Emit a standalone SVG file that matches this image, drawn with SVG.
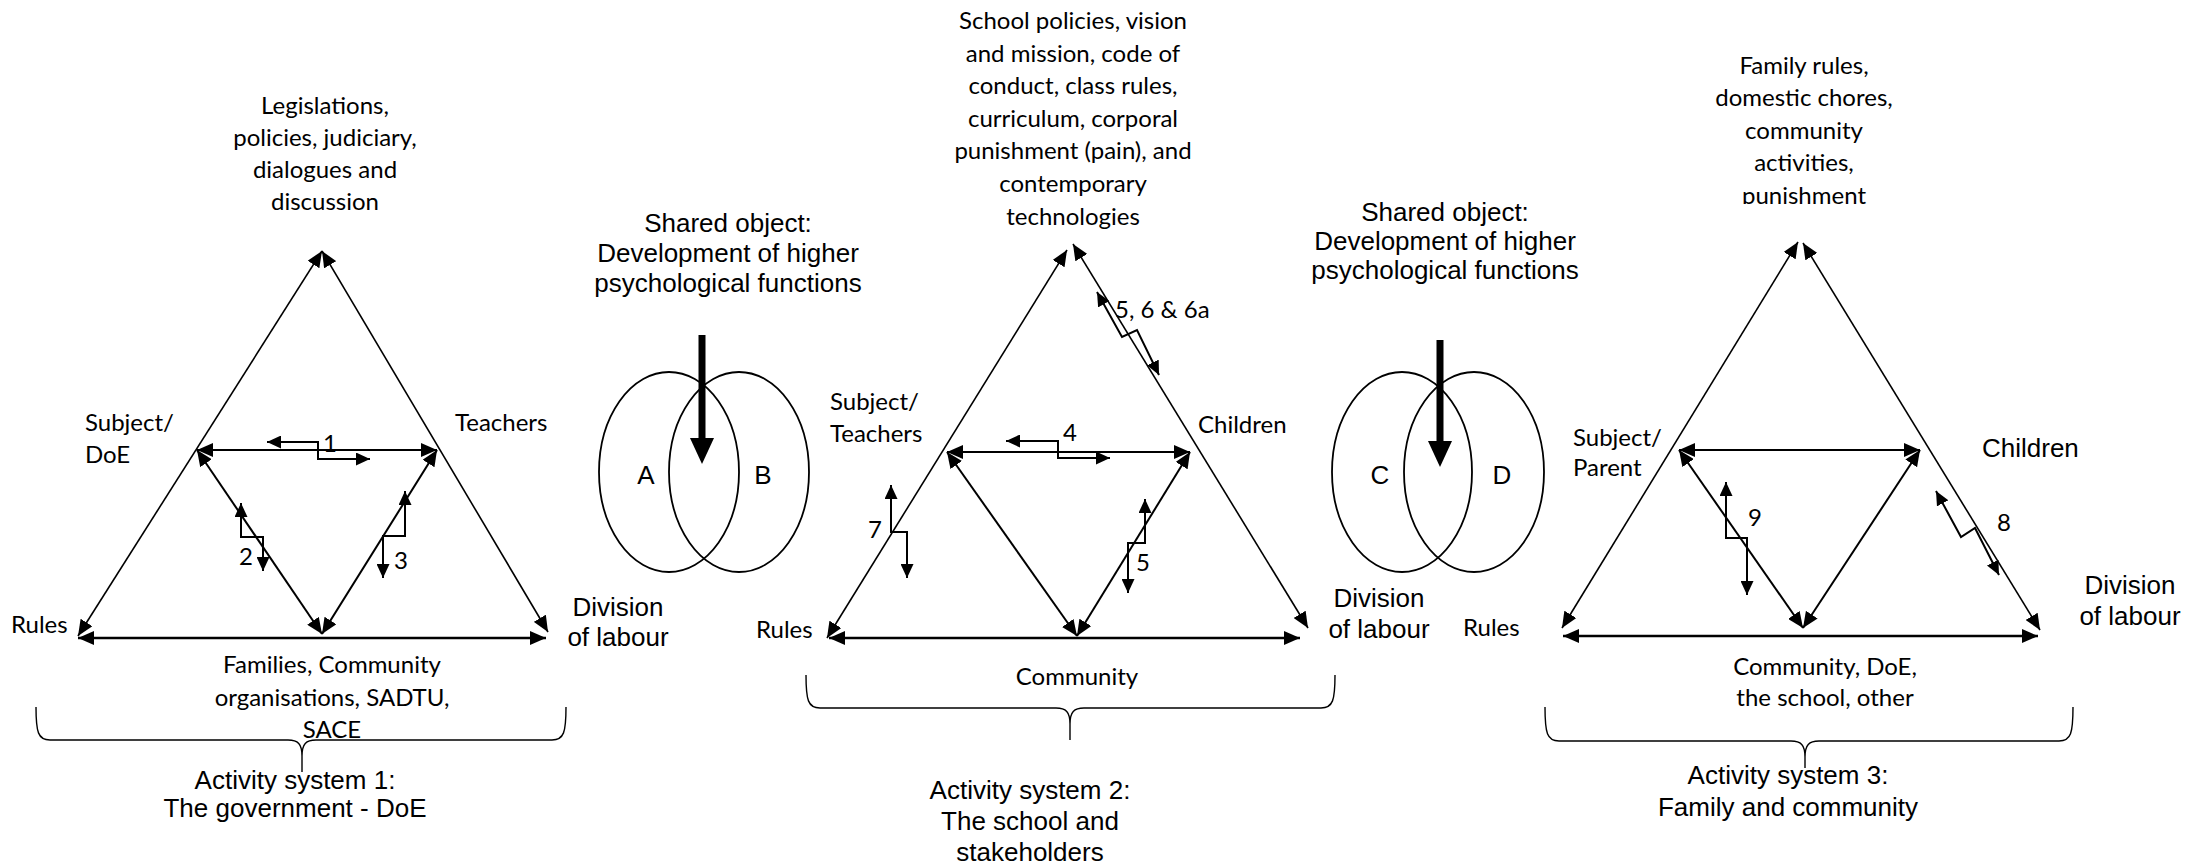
<svg xmlns="http://www.w3.org/2000/svg" width="2188" height="866" viewBox="0 0 2188 866">
<style>
.c{font-family:Lato,"Liberation Sans",sans-serif;font-size:24px;fill:#000}
.a{font-family:"Liberation Sans",Arial,sans-serif;font-size:26px;fill:#000}
.m{text-anchor:middle}
.o{stroke:#000;stroke-width:1.6;fill:none;marker-start:url(#big);marker-end:url(#big)}
.i{stroke:#000;stroke-width:2;fill:none;marker-start:url(#big);marker-end:url(#big)}
.b{stroke:#000;stroke-width:2.6;fill:none;marker-start:url(#big);marker-end:url(#big)}
.z{stroke:#000;stroke-width:2;fill:none;marker-start:url(#sm);marker-end:url(#sm)}
.br{stroke:#000;stroke-width:1.4;fill:none}
.el{stroke:#000;stroke-width:1.8;fill:none}
.th{stroke:#000;stroke-width:7;fill:none}
</style>
<defs>
<marker id="big" viewBox="0 0 16 14" refX="16" refY="7" markerWidth="16" markerHeight="14" markerUnits="userSpaceOnUse" orient="auto-start-reverse"><path d="M0,0 L16,7 L0,14 z" fill="#000"/></marker>
<marker id="sm" viewBox="0 0 14 13" refX="14" refY="6.5" markerWidth="14" markerHeight="13" markerUnits="userSpaceOnUse" orient="auto-start-reverse"><path d="M0,0 L14,6.5 L0,13 z" fill="#000"/></marker>
<clipPath id="clipP"><rect x="1650" y="0" width="320" height="204"/></clipPath>
</defs>
<rect width="2188" height="866" fill="#fff"/>

<g id="connectors">
<!-- Activity system 1 -->
<path class="o" d="M322,251 L78,636"/>
<path class="o" d="M322,251 L548,632"/>
<path class="b" d="M78,638 L546,638"/>
<path class="i" d="M197,450 L437,450"/>
<path class="i" d="M197,450 L322,634"/>
<path class="i" d="M437,450 L322,634"/>
<path class="z" d="M267,442 L318,442 L318,459 L370,459"/>
<path class="z" d="M241,503 L241,537 L263,537 L263,571"/>
<path class="z" d="M405,491 L405,536 L383,536 L383,578"/>
<!-- Activity system 2 -->
<path class="o" d="M1067,250 L827,638"/>
<path class="o" d="M1073,244 L1308,628"/>
<path class="b" d="M829,638 L1300,638"/>
<path class="i" d="M947,452 L1190,452"/>
<path class="i" d="M947,452 L1077,636"/>
<path class="i" d="M1190,452 L1077,636"/>
<path class="z" d="M1006,441 L1058,441 L1058,458 L1110,458"/>
<path class="z" d="M891,485 L891,532 L907,532 L907,578"/>
<path class="z" d="M1145,499 L1145,543 L1128,543 L1128,593"/>
<path class="z" d="M1097,292 L1122,337 L1137,330 L1159,375"/>
<!-- Activity system 3 -->
<path class="o" d="M1798,242 L1562,628"/>
<path class="o" d="M1803,243 L2040,630"/>
<path class="b" d="M1563,636 L2038,636"/>
<path class="i" d="M1679,450 L1920,450"/>
<path class="i" d="M1679,450 L1803,628"/>
<path class="i" d="M1920,450 L1803,628"/>
<path class="z" d="M1726,482 L1726,538 L1747,538 L1747,595"/>
<path class="z" d="M1936,491 L1961,537 L1975,528 L1999,575"/>
<!-- shared object arrows -->
<path class="th" d="M702,335 L702,440"/>
<path d="M690,438 L714,438 L702,464 z" fill="#000"/>
<path class="th" d="M1440,340 L1440,443"/>
<path d="M1428,441 L1452,441 L1440,467 z" fill="#000"/>
<!-- braces -->
<path class="br" d="M36,707 C36,732 38,740 50,740 L288,740 C298,740 302,744 302,756 L302,772 M302,756 C302,744 306,740 316,740 L552,740 C564,740 566,732 566,707"/>
<path class="br" d="M806,675 C806,700 808,708 820,708 L1056,708 C1066,708 1070,712 1070,724 L1070,740 M1070,724 C1070,712 1074,708 1084,708 L1321,708 C1333,708 1335,700 1335,675"/>
<path class="br" d="M1545,707 C1545,733 1547,741 1559,741 L1791,741 C1801,741 1805,745 1805,757 L1805,768 M1805,757 C1805,745 1809,741 1819,741 L2059,741 C2071,741 2073,733 2073,707"/>
</g>

<g id="venn-ab">
<ellipse class="el" cx="669" cy="472" rx="70" ry="100"/>
<ellipse class="el" cx="739" cy="472" rx="70" ry="100"/>
<text class="a m" x="646" y="484">A</text>
<text class="a m" x="763" y="484">B</text>
</g>
<g id="venn-cd">
<ellipse class="el" cx="1402" cy="472" rx="70" ry="100"/>
<ellipse class="el" cx="1474" cy="472" rx="70" ry="100"/>
<text class="a m" x="1380" y="484">C</text>
<text class="a m" x="1502" y="484">D</text>
</g>

<g id="shared-object-1"><text class="a m" x="728"><tspan x="728" y="232">Shared object:</tspan><tspan x="728" y="262">Development of higher</tspan><tspan x="728" y="292">psychological functions</tspan></text></g>
<g id="shared-object-2"><text class="a m" x="1445"><tspan x="1445" y="221">Shared object:</tspan><tspan x="1445" y="250">Development of higher</tspan><tspan x="1445" y="279">psychological functions</tspan></text></g>

<!-- Activity system 1 nodes -->
<g id="as1-instruments"><text class="c m"><tspan x="325" y="114">Legislations,</tspan><tspan x="325" y="146">policies, judiciary,</tspan><tspan x="325" y="178">dialogues and</tspan><tspan x="325" y="210">discussion</tspan></text></g>
<g id="as1-subject"><text class="c"><tspan x="85" y="431">Subject/</tspan><tspan x="85" y="463">DoE</tspan></text></g>
<g id="as1-object"><text class="c" x="455" y="431">Teachers</text></g>
<g id="as1-rules"><text class="c" x="11" y="633">Rules</text></g>
<g id="as1-division"><text class="a m"><tspan x="618" y="616">Division</tspan><tspan x="618" y="646">of labour</tspan></text></g>
<g id="as1-community"><text class="c m"><tspan x="332" y="673">Families, Community</tspan><tspan x="332" y="706">organisations, SADTU,</tspan><tspan x="332" y="738">SACE</tspan></text></g>
<g id="as1-tensions"><text class="c m" x="330" y="452">1</text><text class="c m" x="246" y="565">2</text><text class="c m" x="401" y="569">3</text></g>
<g id="as1-title"><text class="a m"><tspan x="295" y="789">Activity system 1:</tspan><tspan x="295" y="817">The government - DoE</tspan></text></g>

<!-- Activity system 2 nodes -->
<g id="as2-instruments"><text class="c m"><tspan x="1073" y="29">School policies, vision</tspan><tspan x="1073" y="62">and mission, code of</tspan><tspan x="1073" y="94">conduct, class rules,</tspan><tspan x="1073" y="127">curriculum, corporal</tspan><tspan x="1073" y="159">punishment (pain), and</tspan><tspan x="1073" y="192">contemporary</tspan><tspan x="1073" y="225">technologies</tspan></text></g>
<g id="as2-subject"><text class="c"><tspan x="830" y="410">Subject/</tspan><tspan x="830" y="442">Teachers</tspan></text></g>
<g id="as2-object"><text class="c" x="1198" y="433">Children</text></g>
<g id="as2-rules"><text class="c" x="756" y="638">Rules</text></g>
<g id="as2-division"><text class="a m"><tspan x="1379" y="607">Division</tspan><tspan x="1379" y="638">of labour</tspan></text></g>
<g id="as2-community"><text class="c m" x="1077" y="685">Community</text></g>
<g id="as2-tensions"><text class="c m" x="1070" y="441">4</text><text class="c m" x="875" y="538">7</text><text class="c m" x="1143" y="571">5</text><text class="c" x="1115" y="318">5, 6 &amp; 6a</text></g>
<g id="as2-title"><text class="a m"><tspan x="1030" y="799">Activity system 2:</tspan><tspan x="1030" y="830">The school and</tspan><tspan x="1030" y="861">stakeholders</tspan></text></g>

<!-- Activity system 3 nodes -->
<g id="as3-instruments" clip-path="url(#clipP)"><text class="c m"><tspan x="1804" y="74">Family rules,</tspan><tspan x="1804" y="106">domestic chores,</tspan><tspan x="1804" y="139">community</tspan><tspan x="1804" y="171">activities,</tspan><tspan x="1804" y="204">punishment</tspan></text></g>
<g id="as3-subject"><text class="c"><tspan x="1573" y="446">Subject/</tspan><tspan x="1573" y="476">Parent</tspan></text></g>
<g id="as3-object"><text class="a" x="1982" y="457">Children</text></g>
<g id="as3-rules"><text class="c" x="1463" y="636">Rules</text></g>
<g id="as3-division"><text class="a m"><tspan x="2130" y="594">Division</tspan><tspan x="2130" y="625">of labour</tspan></text></g>
<g id="as3-community"><text class="c m"><tspan x="1825" y="675">Community, DoE,</tspan><tspan x="1825" y="706">the school, other</tspan></text></g>
<g id="as3-tensions"><text class="c m" x="1755" y="526">9</text><text class="c m" x="2004" y="531">8</text></g>
<g id="as3-title"><text class="a m"><tspan x="1788" y="784">Activity system 3:</tspan><tspan x="1788" y="816">Family and community</tspan></text></g>
</svg>
